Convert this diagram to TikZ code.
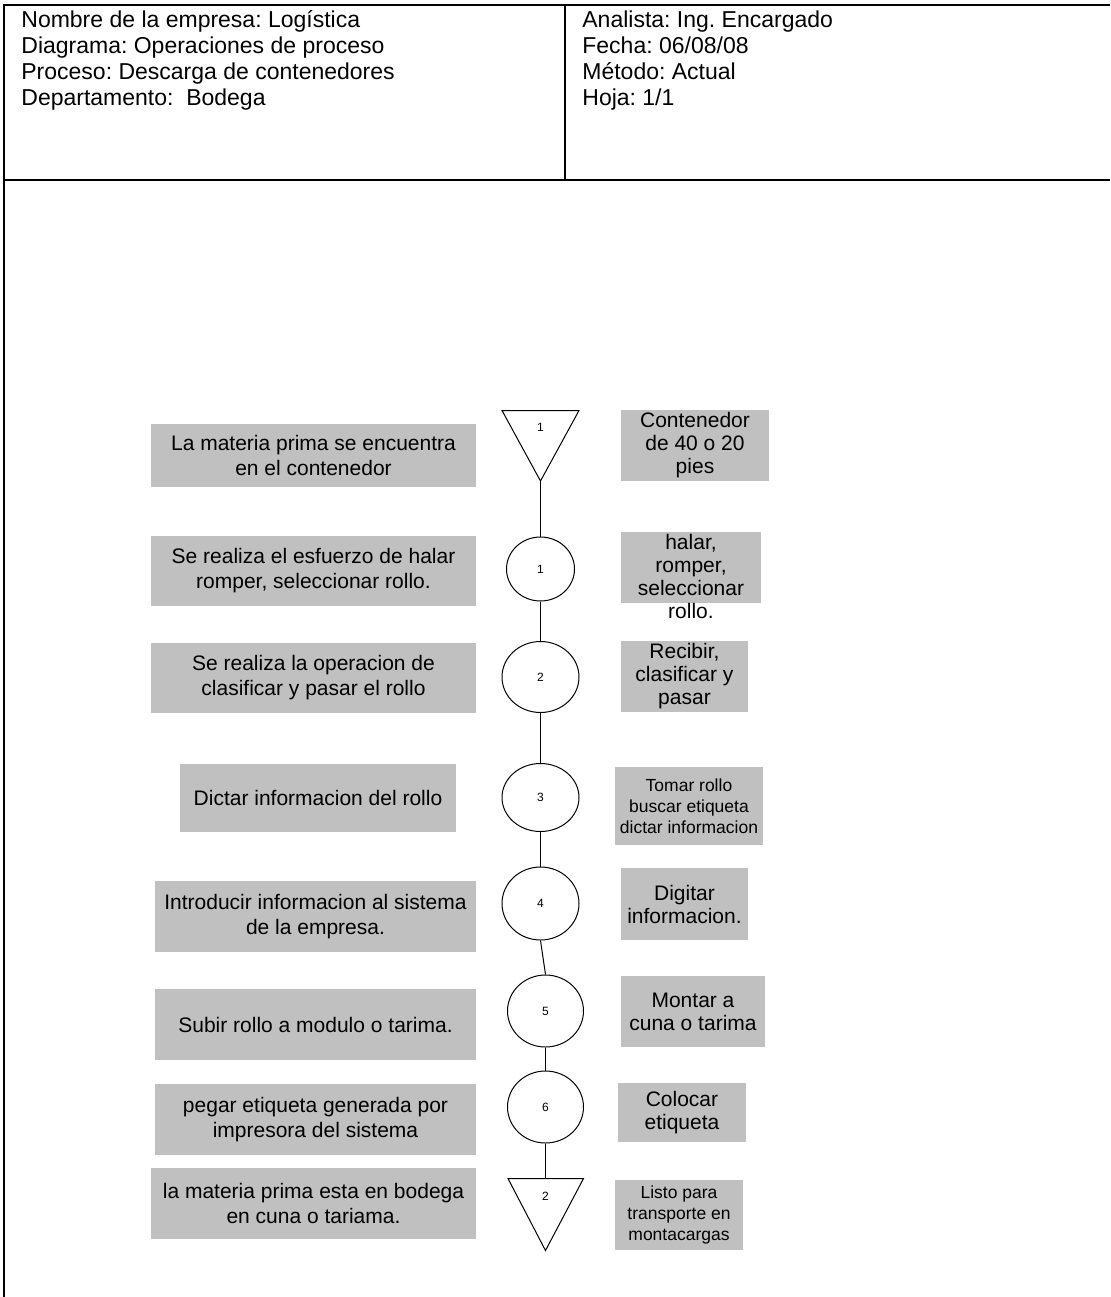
\documentclass[tikz,border=0pt]{standalone}
\usepackage{fontspec}
\setmainfont{Liberation Sans}
\usetikzlibrary{shapes.geometric}
\definecolor{boxgray}{RGB}{192,192,192}
\frenchspacing
\begin{document}
\begin{tikzpicture}[x=0.5pt,y=-0.5pt,
  frameline/.style={line width=1pt},
  hdr/.style={anchor=north west, align=left, inner sep=0pt,
    font=\fontsize{11.5}{13}\selectfont},
  stepbox/.style={fill=boxgray, inner sep=0pt, align=center,
    font=\fontsize{10.5}{12.5}\selectfont},
  notebox/.style={fill=boxgray, inner sep=0pt, align=center,
    font=\fontsize{10.5}{11.5}\selectfont},
  notetext/.style={inner sep=0pt, align=center,
    font=\fontsize{10.5}{11.5}\selectfont},
  smallnote/.style={notebox, font=\fontsize{8.75}{10.5}\selectfont},
  opcircle/.style={draw, ellipse, line width=0.5pt, inner sep=0pt,
    font=\fontsize{6}{7}\selectfont},
  numlabel/.style={inner sep=0pt, font=\fontsize{6}{7}\selectfont},
  flow/.style={line width=0.5pt},
]
\useasboundingbox (0,0) rectangle (1110,1297);

% frame and header
\coordinate (ftl) at (4,4.5);
\coordinate (ftr) at (1110,4.5);
\coordinate (fbl) at (4,1297);
\coordinate (hl) at (4,180);
\coordinate (hr) at (1110,180);
\coordinate (dtop) at (565,4.5);
\coordinate (dbot) at (565,180);
\draw[frameline] (fbl) -- (ftl) -- (ftr);
\draw[frameline] (hl) -- (hr);
\draw[frameline] (dtop) -- (dbot);

\node[hdr] (hleft) at (21,10) {Nombre de la empresa: Logística\\
  Diagrama: Operaciones de proceso\\
  Proceso: Descarga de contenedores\\
  Departamento:\ \ Bodega};
\node[hdr] (hright) at (582,10) {Analista: Ing. Encargado\\
  Fecha: 06/08/08\\
  Método: Actual\\
  Hoja: 1/1};

% left column: activity descriptions
\node[stepbox, minimum width=162.5pt, minimum height=31.5pt] (l1) at (313.5,455.5)
  {La materia prima se encuentra\\en el contenedor};
\node[stepbox, minimum width=162.5pt, minimum height=35pt] (l2) at (313.5,571)
  {Se realiza el esfuerzo de halar\\romper, seleccionar rollo.};
\node[stepbox, minimum width=162.5pt, minimum height=35pt] (l3) at (313.5,678)
  {Se realiza la operacion de\\clasificar y pasar el rollo};
\node[stepbox, minimum width=138pt, minimum height=34pt] (l4) at (318,798)
  {Dictar informacion del rollo};
\node[stepbox, minimum width=160.5pt, minimum height=35.5pt] (l5) at (315.5,916.5)
  {Introducir informacion al sistema\\de la empresa.};
\node[stepbox, minimum width=160.5pt, minimum height=35.5pt] (l6) at (315.5,1024.5)
  {Subir rollo a modulo o tarima.};
\node[stepbox, minimum width=160.5pt, minimum height=35.5pt] (l7) at (315.5,1119.5)
  {pegar etiqueta generada por\\impresora del sistema};
\node[stepbox, minimum width=162.5pt, minimum height=35.5pt] (l8) at (313.5,1203.5)
  {la materia prima esta en bodega\\en cuna o tariama.};

% right column: notes
\node[notebox, minimum width=74pt, minimum height=35.5pt] (r1) at (695,445.5)
  {Contenedor\\de 40 o 20\\pies};
\node[notebox, minimum width=70pt, minimum height=35.5pt] (r2) at (691,567.5) {};
\node[notetext] (r2t) at (691,576) {halar,\\romper,\\seleccionar\\rollo.};
\node[notebox, minimum width=63.5pt, minimum height=35.5pt] (r3) at (684.5,676.5)
  {Recibir,\\clasificar y\\pasar};
\node[smallnote, minimum width=74pt, minimum height=39pt] (r4) at (689,806)
  {Tomar rollo\\buscar etiqueta\\dictar informacion};
\node[notebox, minimum width=63.5pt, minimum height=36pt] (r5) at (684.5,904)
  {Digitar\\informacion.};
\node[notebox, minimum width=72pt, minimum height=35.5pt] (r6) at (693,1011.5)
  {Montar a\\cuna o tarima};
\node[notebox, minimum width=64pt, minimum height=29.5pt] (r7) at (682,1112.5)
  {Colocar\\etiqueta};
\node[smallnote, minimum width=64pt, minimum height=35pt] (r8) at (679,1215)
  {Listo para\\transporte en\\montacargas};

% process symbols
\draw[flow] (502,410.5) -- (579,410.5) -- (540.5,481) -- cycle;
\coordinate (t1apex) at (540.5,481);
\node[numlabel] (t1) at (540.5,427.5) {1};

\node[opcircle, minimum width=34pt, minimum height=32pt] (c1) at (540.5,569) {1};
\node[opcircle, minimum width=38.5pt, minimum height=35.5pt] (c2) at (540.5,677) {2};
\node[opcircle, minimum width=38.5pt, minimum height=34pt] (c3) at (540.5,797.5) {3};
\node[opcircle, minimum width=38.5pt, minimum height=36.5pt] (c4) at (540.5,903.5) {4};
\node[opcircle, minimum width=38pt, minimum height=36pt] (c5) at (545.5,1011) {5};
\node[opcircle, minimum width=38pt, minimum height=36pt] (c6) at (545.5,1107) {6};

\draw[flow] (508,1178.5) -- (583.5,1178.5) -- (545.5,1250.5) -- cycle;
\coordinate (t2top) at (545.5,1178.5);
\node[numlabel] (t2) at (545.5,1196.5) {2};

% connectors
\draw[flow] (t1apex) -- (c1.north);
\draw[flow] (c1.south) -- (c2.north);
\draw[flow] (c2.south) -- (c3.north);
\draw[flow] (c3.south) -- (c4.north);
\draw[flow] (c4.south) -- (c5.north);
\draw[flow] (c5.south) -- (c6.north);
\draw[flow] (c6.south) -- (t2top);
\end{tikzpicture}
\end{document}
